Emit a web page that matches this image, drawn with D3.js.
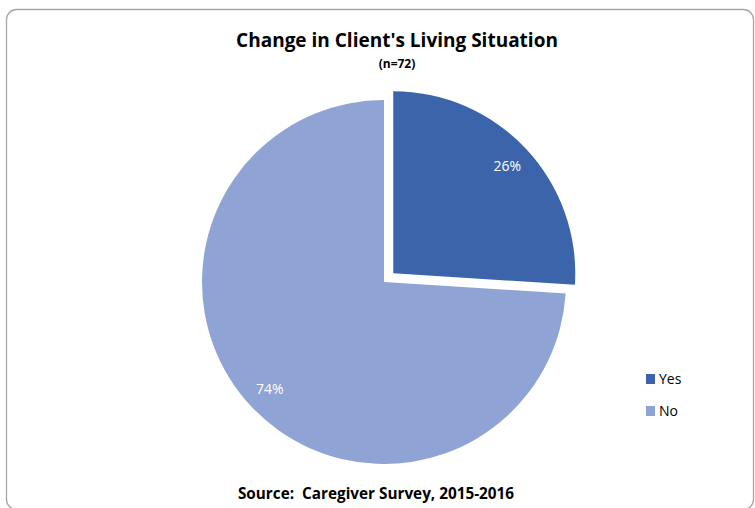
<!DOCTYPE html>
<html>
<head>
<meta charset="utf-8">
<script src="https://cdn.jsdelivr.net/npm/d3@7"></script>
<style>
  html, body { margin: 0; padding: 0; background: #fff; }
  svg { display: block; }
  text { font-family: "Open Sans", Lato, sans-serif; white-space: pre; }
</style>
</head>
<body>
<svg id="chart" width="755" height="508"></svg>
<script>
// Survey responses: did the client's living situation change?
const categories = ["Yes", "No"];
const values = [26, 74];
const colors = ["#3C64AB", "#8FA4D5"];

const svg = d3.select("#chart");

// Chart frame
svg.append("rect")
  .attr("x", 6.5).attr("y", 9.5)
  .attr("width", 747).attr("height", 500)
  .attr("rx", 10).attr("ry", 10)
  .attr("fill", "#fff")
  .attr("stroke", "#a6a6a6")
  .attr("stroke-width", 1.3);

// Titles
svg.append("text")
  .attr("x", 397).attr("y", 47)
  .attr("text-anchor", "middle")
  .attr("font-weight", "bold")
  .attr("font-size", 19)
  .attr("fill", "#000")
  .text("Change in Client's Living Situation");

svg.append("text")
  .attr("x", 397).attr("y", 67.5)
  .attr("text-anchor", "middle")
  .attr("font-weight", "bold")
  .attr("font-size", 12)
  .attr("fill", "#000")
  .text("(n=72)");

svg.append("text")
  .attr("x", 376).attr("y", 499)
  .attr("text-anchor", "middle")
  .attr("font-weight", "bold")
  .attr("font-size", 15.3)
  .attr("fill", "#000")
  .text("Source:  Caregiver Survey, 2015-2016");

// Pie
const cx = 384, cy = 282, radius = 182, explode = 12.7;
const pie = d3.pie().sort(null).value(d => d.value);
const arcs = pie(categories.map((c, i) => ({ name: c, value: values[i], color: colors[i] })));
const arc = d3.arc().innerRadius(0).outerRadius(radius);

const slices = svg.append("g").attr("transform", `translate(${cx},${cy})`);

slices.selectAll("g.slice")
  .data(arcs)
  .join("g")
  .attr("class", "slice")
  .attr("transform", d => {
    if (d.data.name !== "Yes") return null;
    const mid = (d.startAngle + d.endAngle) / 2;
    return `translate(${explode * Math.sin(mid)},${-explode * Math.cos(mid)})`;
  })
  .each(function (d) {
    const g = d3.select(this);
    g.append("path").attr("d", arc(d)).attr("fill", d.data.color);
    const mid = (d.startAngle + d.endAngle) / 2;
    const lr = radius * 0.86;
    g.append("text")
      .attr("x", lr * Math.sin(mid))
      .attr("y", -lr * Math.cos(mid))
      .attr("dy", "0.35em")
      .attr("text-anchor", "middle")
      .attr("font-size", 14)
      .attr("fill", "#fff")
      .text(Math.round(d.data.value) + "%");
  });

// Legend
const legend = svg.append("g").attr("transform", "translate(646,374)");
const items = legend.selectAll("g")
  .data(categories)
  .join("g")
  .attr("transform", (d, i) => `translate(0,${i * 32})`);
items.append("rect")
  .attr("width", 9).attr("height", 10)
  .attr("fill", (d, i) => colors[i]);
items.append("text")
  .attr("x", 13).attr("y", 5)
  .attr("dy", "0.35em")
  .attr("font-size", 14)
  .attr("fill", "#000")
  .text(d => d);
</script>
</body>
</html>
